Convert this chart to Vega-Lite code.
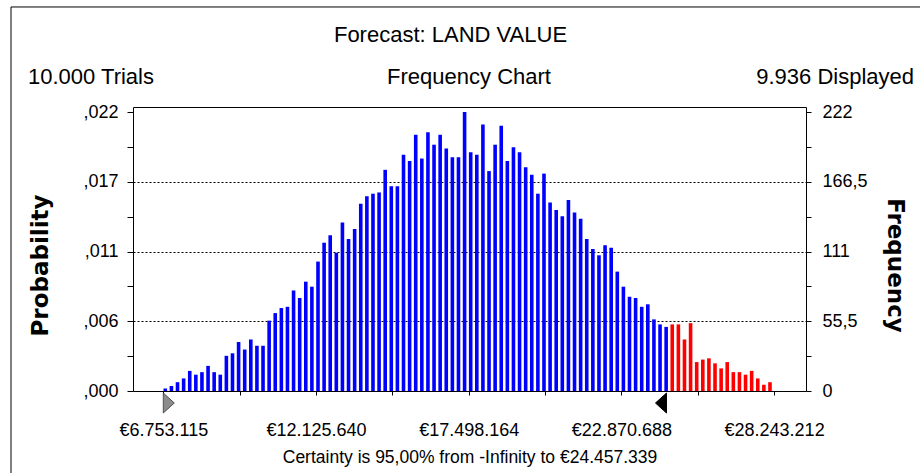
{
  "$schema": "https://vega.github.io/schema/vega-lite/v6.json",
  "width": 673,
  "height": 284,
  "autosize": {"type": "none"},
  "padding": {"left": 133, "top": 107, "right": 114, "bottom": 82},
  "background": "#ffffff",
  "config": {
    "view": {"stroke": "#000000", "strokeWidth": 1},
    "scale": {"continuousPadding": 0},
    "axis": {"labelFont": "Liberation Sans", "labelColor": "#000000", "tickColor": "#000000", "domain": false, "titleColor": "#000000", "labelOverlap": false, "labelFlush": false}
  },
  "data": {"values": [{}]},
  "datasets": {
    "bins": [
      {"start": 6753115, "freq": 2, "part": "in"},
      {"start": 6968016, "freq": 4, "part": "in"},
      {"start": 7182917, "freq": 7, "part": "in"},
      {"start": 7397818, "freq": 10, "part": "in"},
      {"start": 7612719, "freq": 16, "part": "in"},
      {"start": 7827620, "freq": 13, "part": "in"},
      {"start": 8042521, "freq": 15, "part": "in"},
      {"start": 8257422, "freq": 20, "part": "in"},
      {"start": 8472323, "freq": 15, "part": "in"},
      {"start": 8687224, "freq": 13, "part": "in"},
      {"start": 8902125, "freq": 28, "part": "in"},
      {"start": 9117026, "freq": 30, "part": "in"},
      {"start": 9331927, "freq": 39, "part": "in"},
      {"start": 9546828, "freq": 33, "part": "in"},
      {"start": 9761729, "freq": 41, "part": "in"},
      {"start": 9976630, "freq": 36, "part": "in"},
      {"start": 10191531, "freq": 36, "part": "in"},
      {"start": 10406432, "freq": 56, "part": "in"},
      {"start": 10621333, "freq": 62, "part": "in"},
      {"start": 10836234, "freq": 66, "part": "in"},
      {"start": 11051135, "freq": 67, "part": "in"},
      {"start": 11266036, "freq": 80, "part": "in"},
      {"start": 11480937, "freq": 74, "part": "in"},
      {"start": 11695838, "freq": 87, "part": "in"},
      {"start": 11910739, "freq": 83, "part": "in"},
      {"start": 12125640, "freq": 103, "part": "in"},
      {"start": 12340541, "freq": 118, "part": "in"},
      {"start": 12555442, "freq": 124, "part": "in"},
      {"start": 12770343, "freq": 110, "part": "in"},
      {"start": 12985244, "freq": 134, "part": "in"},
      {"start": 13200145, "freq": 121, "part": "in"},
      {"start": 13415046, "freq": 129, "part": "in"},
      {"start": 13629947, "freq": 149, "part": "in"},
      {"start": 13844848, "freq": 155, "part": "in"},
      {"start": 14059749, "freq": 157, "part": "in"},
      {"start": 14274650, "freq": 158, "part": "in"},
      {"start": 14489551, "freq": 176, "part": "in"},
      {"start": 14704452, "freq": 163, "part": "in"},
      {"start": 14919353, "freq": 163, "part": "in"},
      {"start": 15134254, "freq": 188, "part": "in"},
      {"start": 15349155, "freq": 183, "part": "in"},
      {"start": 15564056, "freq": 204, "part": "in"},
      {"start": 15778957, "freq": 185, "part": "in"},
      {"start": 15993858, "freq": 206, "part": "in"},
      {"start": 16208759, "freq": 196, "part": "in"},
      {"start": 16423660, "freq": 204, "part": "in"},
      {"start": 16638561, "freq": 193, "part": "in"},
      {"start": 16853462, "freq": 186, "part": "in"},
      {"start": 17068363, "freq": 186, "part": "in"},
      {"start": 17283264, "freq": 222, "part": "in"},
      {"start": 17498164, "freq": 190, "part": "in"},
      {"start": 17713065, "freq": 188, "part": "in"},
      {"start": 17927966, "freq": 212, "part": "in"},
      {"start": 18142867, "freq": 175, "part": "in"},
      {"start": 18357768, "freq": 196, "part": "in"},
      {"start": 18572669, "freq": 211, "part": "in"},
      {"start": 18787570, "freq": 183, "part": "in"},
      {"start": 19002471, "freq": 194, "part": "in"},
      {"start": 19217372, "freq": 190, "part": "in"},
      {"start": 19432273, "freq": 178, "part": "in"},
      {"start": 19647174, "freq": 172, "part": "in"},
      {"start": 19862075, "freq": 157, "part": "in"},
      {"start": 20076976, "freq": 173, "part": "in"},
      {"start": 20291877, "freq": 150, "part": "in"},
      {"start": 20506778, "freq": 144, "part": "in"},
      {"start": 20721679, "freq": 139, "part": "in"},
      {"start": 20936580, "freq": 152, "part": "in"},
      {"start": 21151481, "freq": 142, "part": "in"},
      {"start": 21366382, "freq": 137, "part": "in"},
      {"start": 21581283, "freq": 121, "part": "in"},
      {"start": 21796184, "freq": 113, "part": "in"},
      {"start": 22011085, "freq": 108, "part": "in"},
      {"start": 22225986, "freq": 116, "part": "in"},
      {"start": 22440887, "freq": 114, "part": "in"},
      {"start": 22655788, "freq": 95, "part": "in"},
      {"start": 22870688, "freq": 83, "part": "in"},
      {"start": 23085589, "freq": 75, "part": "in"},
      {"start": 23300490, "freq": 74, "part": "in"},
      {"start": 23515391, "freq": 67, "part": "in"},
      {"start": 23730292, "freq": 69, "part": "in"},
      {"start": 23945193, "freq": 57, "part": "in"},
      {"start": 24160094, "freq": 53, "part": "in"},
      {"start": 24374995, "freq": 51, "part": "in"},
      {"start": 24589896, "freq": 53, "part": "out"},
      {"start": 24804797, "freq": 53, "part": "out"},
      {"start": 25019698, "freq": 41, "part": "out"},
      {"start": 25234599, "freq": 54, "part": "out"},
      {"start": 25449500, "freq": 23, "part": "out"},
      {"start": 25664401, "freq": 25, "part": "out"},
      {"start": 25879302, "freq": 26, "part": "out"},
      {"start": 26094203, "freq": 22, "part": "out"},
      {"start": 26309104, "freq": 18, "part": "out"},
      {"start": 26524005, "freq": 23, "part": "out"},
      {"start": 26738906, "freq": 15, "part": "out"},
      {"start": 26953807, "freq": 15, "part": "out"},
      {"start": 27168708, "freq": 13, "part": "out"},
      {"start": 27383609, "freq": 16, "part": "out"},
      {"start": 27598510, "freq": 10, "part": "out"},
      {"start": 27813411, "freq": 5, "part": "out"},
      {"start": 28028312, "freq": 7, "part": "out"}
    ],
    "markers": [
      {"value": 6753115, "kind": "start"},
      {"value": 24457339, "kind": "end"}
    ]
  },
  "layer": [
    {
      "data": {"name": "bins"},
      "transform": [{"filter": "datum.part == 'in'"}],
      "mark": {"type": "bar", "orient": "vertical", "color": "#0000ff", "size": 3.6, "xOffset": 2},
      "encoding": {
        "x": {
          "field": "start", "type": "quantitative",
          "scale": {"domain": [5687039, 29365871], "nice": false, "zero": false, "padding": 0},
          "axis": {
            "values": [6753115, 9439377, 12125640, 14811902, 17498164, 20184426, 22870688, 25556950, 28243212],
            "tickSize": 4, "labelPadding": 40, "labelBaseline": "alphabetic", "labelFontSize": 18, "labelAlign": "center",
            "labelExpr": "indexof([6753115,12125640,17498164,22870688,28243212], datum.value) >= 0 ? '€' + replace(replace(format(datum.value, ',d'), ',', '.'), ',', '.') : ''",
            "grid": false,
            "title": "Certainty is 95,00% from -Infinity to €24.457.339",
            "titleFont": "Liberation Sans", "titleFontSize": 17.5, "titleFontWeight": "normal",
            "titleY": 71, "titleBaseline": "alphabetic"
          }
        },
        "y": {
          "field": "freq", "type": "quantitative",
          "scale": {"domain": [0, 226], "nice": false, "padding": 0},
          "axis": {
            "orient": "left",
            "values": [0, 27.75, 55.5, 83.25, 111, 138.75, 166.5, 194.25, 222],
            "tickSize": 6, "labelPadding": 9, "labelFontSize": 18,
            "labelExpr": "datum.value % 55.5 == 0 ? replace(format(datum.value / 10000 + 1e-9, '.3f'), '0.', ',') : ''",
            "grid": true, "gridColor": "#000000", "gridDash": [2, 2], "gridWidth": 1,
            "gridOpacity": {"condition": {"test": "datum.value > 0 && datum.value < 222 && datum.value % 55.5 == 0", "value": 1}, "value": 0},
            "title": "Probability", "titleFont": "DejaVu Sans", "titleFontSize": 23, "titleFontWeight": "bold",
            "titleX": -93, "titleY": 158, "titleBaseline": "middle", "titleAlign": "center", "titleAngle": -90
          }
        }
      }
    },
    {
      "data": {"name": "bins"},
      "transform": [{"filter": "datum.part == 'out'"}],
      "mark": {"type": "bar", "orient": "vertical", "color": "#ff0000", "size": 3.6, "xOffset": 2},
      "encoding": {
        "x": {"field": "start", "type": "quantitative", "scale": {"domain": [5687039, 29365871], "nice": false, "zero": false, "padding": 0}, "axis": null},
        "y": {
          "field": "freq", "type": "quantitative",
          "scale": {"domain": [0, 226], "nice": false, "padding": 0},
          "axis": {
            "orient": "right",
            "values": [0, 27.75, 55.5, 83.25, 111, 138.75, 166.5, 194.25, 222],
            "tickSize": 5, "labelPadding": 11, "labelFontSize": 18,
            "labelExpr": "datum.value % 55.5 == 0 ? replace(format(datum.value, '~f'), '.', ',') : ''",
            "grid": false,
            "title": "Frequency", "titleFont": "DejaVu Sans", "titleFontSize": 23, "titleFontWeight": "bold",
            "titleX": 88, "titleY": 158, "titleBaseline": "middle", "titleAlign": "center", "titleAngle": 90
          }
        }
      }
    },
    {
      "data": {"name": "markers"},
      "mark": {"type": "point", "filled": true, "size": 400, "yOffset": 12, "strokeWidth": 1, "opacity": 1},
      "encoding": {
        "x": {"field": "value", "type": "quantitative", "scale": {"domain": [5687039, 29365871], "nice": false, "zero": false, "padding": 0}, "axis": null},
        "y": {"datum": 0, "type": "quantitative", "scale": {"domain": [0, 226], "nice": false, "padding": 0}, "axis": null},
        "shape": {"field": "kind", "type": "nominal", "scale": {"domain": ["start", "end"], "range": ["M0,-1L1.1,0L0,1Z", "M0,-1L-1.1,0L0,1Z"]}, "legend": null},
        "fill": {"field": "kind", "type": "nominal", "scale": {"domain": ["start", "end"], "range": ["#8c8c8c", "#000000"]}, "legend": null},
        "stroke": {"field": "kind", "type": "nominal", "scale": {"domain": ["start", "end"], "range": ["#505050", "#000000"]}, "legend": null}
      }
    },
    {
      "mark": {"type": "rect", "fillOpacity": 0, "stroke": "#000000", "strokeWidth": 1},
      "encoding": {
        "x": {"datum": 1394591, "type": "quantitative", "scale": {"domain": [5687039, 29365871], "nice": false, "zero": false, "padding": 0}, "axis": null},
        "x2": {"datum": 33834239},
        "y": {"datum": 305.6, "type": "quantitative", "scale": {"domain": [0, 226], "nice": false, "padding": 0}, "axis": null},
        "y2": {"datum": -70}
      }
    },
    {
      "mark": {"type": "text", "text": "Forecast: LAND VALUE", "font": "Liberation Sans", "fontSize": 22, "align": "center", "baseline": "alphabetic", "color": "#000000"},
      "encoding": {
        "x": {"datum": 16857959, "type": "quantitative", "scale": {"domain": [5687039, 29365871], "nice": false, "zero": false, "padding": 0}, "axis": null},
        "y": {"datum": 277.7, "type": "quantitative", "scale": {"domain": [0, 226], "nice": false, "padding": 0}, "axis": null}
      }
    },
    {
      "mark": {"type": "text", "text": "10.000 Trials", "font": "Liberation Sans", "fontSize": 22, "align": "left", "baseline": "alphabetic", "color": "#000000"},
      "encoding": {
        "x": {"datum": 1992719, "type": "quantitative", "scale": {"domain": [5687039, 29365871], "nice": false, "zero": false, "padding": 0}, "axis": null},
        "y": {"datum": 244.3, "type": "quantitative", "scale": {"domain": [0, 226], "nice": false, "padding": 0}, "axis": null}
      }
    },
    {
      "mark": {"type": "text", "text": "Frequency  Chart", "font": "Liberation Sans", "fontSize": 22, "align": "center", "baseline": "alphabetic", "color": "#000000"},
      "encoding": {
        "x": {"datum": 17508863, "type": "quantitative", "scale": {"domain": [5687039, 29365871], "nice": false, "zero": false, "padding": 0}, "axis": null},
        "y": {"datum": 244.3, "type": "quantitative", "scale": {"domain": [0, 226], "nice": false, "padding": 0}, "axis": null}
      }
    },
    {
      "mark": {"type": "text", "text": "9.936 Displayed", "font": "Liberation Sans", "fontSize": 22, "align": "right", "baseline": "alphabetic", "color": "#000000"},
      "encoding": {
        "x": {"datum": 33165743, "type": "quantitative", "scale": {"domain": [5687039, 29365871], "nice": false, "zero": false, "padding": 0}, "axis": null},
        "y": {"datum": 244.3, "type": "quantitative", "scale": {"domain": [0, 226], "nice": false, "padding": 0}, "axis": null}
      }
    }
  ],
  "resolve": {"axis": {"x": "independent", "y": "independent"}}
}
